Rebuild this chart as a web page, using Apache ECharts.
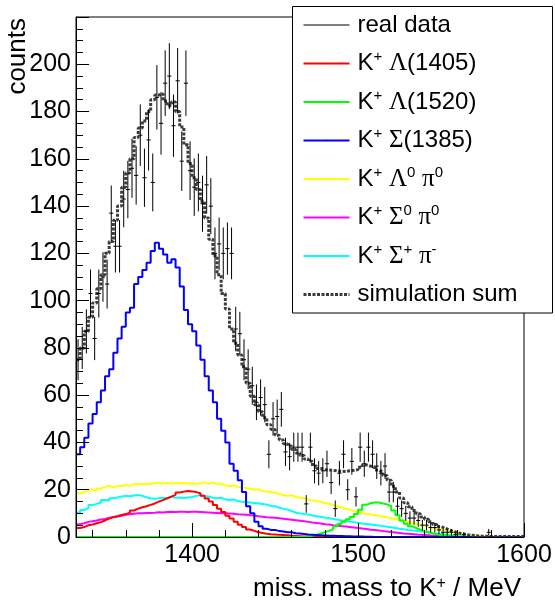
<!DOCTYPE html>
<html><head><meta charset="utf-8">
<script src="https://cdn.jsdelivr.net/npm/echarts@6/dist/echarts.min.js"></script>
<style>html,body{margin:0;padding:0;background:#fff}#c{width:555px;height:606px}</style>
</head><body><div id="c"></div>
<script>
// Histogram binning (MeV)
const binStart = 1330;
const binWidth = 2.5;

// Tick positions
const yMax = 220;
const xMajorTicks = [1400, 1500, 1600];
const xMinorTicks = [1340, 1360, 1380, 1420, 1440, 1460, 1480, 1520, 1540, 1560, 1580];

// Measured counts per bin
const realData = [75,80,87,103,84,103,110,107,137,123, 123,143,147,156,153,170,152,168,150,186,
  175,192,195,174,193,159,192,155,148,150, 141,149,140,120,124,120,122,120,88,86,
  75,71,64,57,59,56,35,50,51,54, 36,34,38,38,38,14,38,28,27,28,
  31,23,12,27,35,20,32,17,38,31, 38,35,30,27,30,19,19,13,12,10,
  8,8,7,5,5,4,4,3,2,2, 2,1,0,1,0,0,0,0,0,2,
  0,0,0,0,0,0,0,0];

// Simulated components per bin
const lambda1405 = [3.8,4.2,5,5.3,5.8,6.3,7,7.8,8.4,8.8, 9.3,9.7,10.3,11.2,12,12.6,13,13.6,14.2,15,
  15.6,16.4,17.1,17.8,18.8,19.2,19.5,19.3,19,18.5, 17.5,16.3,15,13.5,12,10.6,9,7.8,6.5,5.2,
  4.2,3.2,2.6,2,1.7,1.4,1.2,1.1,0.9,0.8, 0.7,0.5,0.4,0.3,0.2,0.2,0.1,0,0,0,
  0,0,0,0,0,0,0,0,0,0, 0,0,0,0,0,0,0,0,0,0,
  0,0,0,0,0,0,0,0,0,0, 0,0,0,0,0,0,0,0,0,0,
  0,0,0,0,0,0,0,0];
const lambda1520 = [0,0,0,0,0,0,0,0,0,0, 0,0,0,0,0,0,0,0,0,0,
  0,0,0,0,0,0,0,0,0,0, 0,0,0,0,0,0,0,0,0,0,
  0,0,0,0,0,0,0,0,0,0, 0,0,0,0,0,0,0.5,1,1.5,2,
  2.6,3.3,4.5,5.5,6.5,7.5,8.5,9.7,11.5,13.6, 14.3,14.6,14.6,14.2,13.8,13,11.2,9.2,7,5.6,
  4.6,3.8,3.1,2.5,2,1.6,1.2,0.9,0.7,0.5, 0.3,0.2,0.1,0,0,0,0,0,0,0,
  0,0,0,0,0,0,0,0];
const sigma1385 = [35,38,42,48,52,57,62,68,71,78, 84,89,95,97,107,110,113,116,121,124.5,
  122,119.5,116,117.5,114,106,96,90,87,81, 75,68,62,57,50,45,40,31,28,24,
  19,13,10,6.5,4.5,3.5,3,3,2.5,2.3, 2,2,1.6,1.5,1.3,1.1,1,0.8,0.7,0.6,
  0.5,0.5,0.4,0.4,0.3,0.3,0.2,0.2,0.2,0.1, 0.1,0,0,0,0,0,0,0,0,0,
  0,0,0,0,0,0,0,0,0,0, 0,0,0,0,0,0,0,0,0,0,
  0,0,0,0,0,0,0,0];
const lambda0pi0 = [18.5,19,19.6,20.2,19.5,20.5,21.2,21.7,21,21.5, 21.7,22,21.6,22.3,22.5,22.2,22.6,22.4,22.8,23,
  22.6,22.8,22.6,22.9,22.7,22.8,22.6,22.7,22.4,22.6, 23.2,22.5,23,22.4,22.6,21.8,21.6,21.8,21.2,21,
  20.6,20.4,20,20.2,19.5,19.2,19,18.7,18.2,17.8, 17.4,17.6,17,16.6,16.4,15.8,15.4,15.2,14.8,14.4,
  14.1,13.6,13,12.6,12,11.6,11,10.6,10.1,9.8, 9.5,9.2,9,8.7,8.4,7.9,7.6,7.2,6.8,6.4,
  6,5.6,5.1,4.7,4.2,3.8,3.4,3,2.7,2.3, 2,1.6,1.3,1,0.7,0.5,0.3,0.2,0.1,0,
  0,0,0,0,0,0,0,0];
const sigma0pi0 = [5.4,5.8,6.4,6.7,7,7.4,7.6,8.1,8.5,8.7, 9,9.4,9.6,9.8,10,10,10.2,10.2,10.3,10.5,
  10.4,10.6,10.7,10.6,10.7,10.7,10.6,10.7,10.7,10.6, 10.5,10.4,10.3,10.2,10.1,10,9.9,9.8,9.6,9.5,
  9.4,9.2,9.1,8.8,8.6,8.4,8.3,8.1,7.9,7.7, 7.5,7.3,7.1,6.9,6.7,6.4,6.1,5.9,5.7,5.4,
  5.3,5,4.8,4.6,4.4,4.2,4,3.8,3.6,3.4, 3.1,3,2.8,2.5,2.3,2.1,1.9,1.7,1.5,1.4,
  1.3,1.1,0.9,0.8,0.7,0.5,0.4,0.3,0.2,0.1, 0,0,0,0,0,0,0,0,0,0,
  0,0,0,0,0,0,0,0];
const sigmaPlusPiMinus = [10.4,11.4,12.2,13.5,14,14.6,15.7,15.4,16.4,16.7, 17.1,17.4,17.2,17.6,17.8,17.4,16.8,16.4,16.2,16.4,
  16.6,16.4,17,16.6,16.7,16.4,16.7,16.9,17.4,17.8, 17.3,17.1,16.6,16.4,16.6,15.9,15.7,15.9,15.2,14.9,
  14.8,14.6,14.4,14.2,14,13.7,13.1,13,12.4,11.9, 11.6,11,10.3,10,9.7,9.5,9.1,8.8,8.6,8.2,
  7.9,7.6,7.3,7,6.8,6.5,6.2,6,5.7,5.5, 5.3,5.1,4.9,4.6,4.3,4.1,3.8,3.5,3.3,3,
  2.8,2.6,2.4,2.1,1.9,1.6,1.4,1.3,1.1,0.8, 0.6,0.4,0.3,0.2,0.1,0,0,0,0,0,
  0,0,0,0,0,0,0,0];
const simulationSum = [75,80,87,93,99,105,111,120,125,134, 140,148,154,160,169,173,176,180,185,187,
  187.5,184.5,182.5,184,180,173.5,166,158,152,147, 142,135,126,119,111,103,96.5,88,82,77,
  72,65,59.5,56,53,50.5,47.5,45.5,43,41, 39.5,38.5,37,35.5,34.5,33,32,30,29,28.5,
  28.3,28.2,28,27.8,27.7,28,28.2,28.5,29.5,30.5, 30,29.5,28.3,27.5,26,24,21.5,19,16.5,14.5,
  12.8,11.2,9.8,8.5,7.5,6.4,5.3,4.4,3.7,3, 2.4,1.8,1.4,1.1,0.8,0.6,0.45,0.35,0.3,0.25,
  0.25,0.25,0.25,0.25,0.25,0.25,0.25,0.25];

const legendLabels = {
  'real data': 'real data',
  'K+ Λ(1405)': 'K{sup|+} {g|Λ}(1405)',
  'K+ Λ(1520)': 'K{sup|+} {g|Λ}(1520)',
  'K+ Σ(1385)': 'K{sup|+} {g|Σ}(1385)',
  'K+ Λ0 π0': 'K{sup|+} {g|Λ}{sup|0} {g|π}{sup|0}',
  'K+ Σ0 π0': 'K{sup|+} {g|Σ}{sup|0} {g|π}{sup|0}',
  'K+ Σ+ π-': 'K{sup|+} {g|Σ}{sup|+} {g|π}{sup|-}',
  'simulation sum': 'simulation sum'
};

function histData(vals) {
  const pts = vals.map((v, i) => [binStart + i * binWidth, v]);
  pts.push([binStart + vals.length * binWidth, vals[vals.length - 1]]);
  return pts;
}
function histSeries(name, vals, color, z) {
  return {
    type: 'line', name: name, data: histData(vals), step: 'end',
    symbol: 'none', silent: true, z: z,
    lineStyle: { color: color, width: 2 }, itemStyle: { color: color }
  };
}

const font = 'Liberation Sans';
const chart = echarts.init(document.getElementById('c'));
chart.setOption({
  animation: false,
  backgroundColor: '#fff',
  grid: { left: 76, right: 31, top: 17, bottom: 69, show: true, borderColor: '#000', borderWidth: 1, backgroundColor: 'transparent' },
  xAxis: [
    { type: 'value', min: binStart, max: 1600, position: 'bottom', z: 10,
      axisLine: { show: true, onZero: false, lineStyle: { color: '#000', width: 1 } },
      axisTick: { show: true, inside: true, length: 14, customValues: xMajorTicks, lineStyle: { color: '#000' } },
      axisLabel: { customValues: xMajorTicks, formatter: v => String(v), color: '#000', fontFamily: font, fontSize: 25, margin: 6 },
      splitLine: { show: false } },
    { type: 'value', min: binStart, max: 1600, position: 'bottom', z: 10,
      axisLine: { show: false, onZero: false },
      axisTick: { show: true, inside: true, length: 7, customValues: xMinorTicks, lineStyle: { color: '#000' } },
      axisLabel: { show: false }, splitLine: { show: false } }
  ],
  yAxis: {
    type: 'value', min: 0, max: yMax, interval: 20, z: 10,
    axisLine: { show: true, lineStyle: { color: '#000', width: 1 } },
    axisTick: { show: true, inside: true, length: 13, lineStyle: { color: '#000' } },
    minorTick: { show: true, splitNumber: 4, length: 7, lineStyle: { color: '#000' } },
    axisLabel: { showMaxLabel: false, formatter: v => String(v), color: '#000', fontFamily: font, fontSize: 25, margin: 5 },
    splitLine: { show: false }
  },
  legend: {
    orient: 'vertical', left: 302, top: 11, padding: 0, itemGap: 10.5,
    itemWidth: 46, itemHeight: 2, selectedMode: false, z: 20,
    data: [
      { name: 'real data', lineStyle: { width: 1 }, itemStyle: { opacity: 0 } },
      { name: 'K+ Λ(1405)', lineStyle: { width: 2 } },
      { name: 'K+ Λ(1520)', lineStyle: { width: 2 } },
      { name: 'K+ Σ(1385)', lineStyle: { width: 2 } },
      { name: 'K+ Λ0 π0', lineStyle: { width: 2 } },
      { name: 'K+ Σ0 π0', lineStyle: { width: 2 } },
      { name: 'K+ Σ+ π-', lineStyle: { width: 2 } },
      { name: 'simulation sum', lineStyle: { width: 3 } }
    ],
    formatter: name => legendLabels[name],
    textStyle: {
      fontFamily: font, fontSize: 24, color: '#000', lineHeight: 28, padding: [0, 0, 0, 3],
      rich: {
        sup: { fontFamily: font, fontSize: 15, lineHeight: 16, verticalAlign: 'top', color: '#000' },
        g: { fontFamily: 'Liberation Serif', fontSize: 25, lineHeight: 28, color: '#000' }
      }
    }
  },
  graphic: [
    { type: 'rect', z: 15, shape: { x: 292.5, y: 6.5, width: 260, height: 306.5 },
      style: { fill: '#fff', stroke: '#000', lineWidth: 1 } },
    { type: 'text', x: 5, y: 18, rotation: Math.PI / 2, z: 5,
      style: { text: 'counts', font: '26px "Liberation Sans"', fill: '#000', align: 'right', verticalAlign: 'top' } },
    { type: 'text', x: 521, y: 576, z: 5,
      style: { text: 'miss. mass to K{sup|+} / MeV', font: '26px "Liberation Sans"', fill: '#000',
        align: 'right', verticalAlign: 'top',
        rich: { sup: { font: '16px "Liberation Sans"', fill: '#000', verticalAlign: 'top', lineHeight: 14 } } } }
  ],
  series: [
    { type: 'line', name: 'real data', data: [], symbol: 'none', lineStyle: { color: '#000', width: 1 }, itemStyle: { color: '#000' } },
    histSeries('K+ Λ0 π0', lambda0pi0, '#ffff00', 2),
    histSeries('K+ Σ+ π-', sigmaPlusPiMinus, '#00ffff', 2),
    histSeries('K+ Σ0 π0', sigma0pi0, '#ff00ff', 2),
    histSeries('K+ Λ(1405)', lambda1405, '#ff0000', 2),
    histSeries('K+ Λ(1520)', lambda1520, '#00ff00', 2),
    histSeries('K+ Σ(1385)', sigma1385, '#0000ff', 2),
    { type: 'line', name: 'simulation sum', data: histData(simulationSum), step: 'end', symbol: 'none', silent: true, z: 3,
      lineStyle: { color: '#3c3c3c', width: 3, type: [3, 1.5] }, itemStyle: { color: '#3c3c3c' } },
    { type: 'custom', name: 'real data points', z: 4, silent: true,
      data: realData.map((v, i) => [binStart + (i + 0.5) * binWidth, v]),
      encode: { x: 0, y: 1 },
      renderItem: function (params, api) {
        const x = api.value(0), v = api.value(1);
        if (!v) return null;
        const e = Math.sqrt(v);
        const t = api.coord([x, v + e]), b = api.coord([x, Math.max(v - e, 0)]);
        const l = api.coord([x - binWidth / 2, v]), r = api.coord([x + binWidth / 2, v]);
        return { type: 'group', children: [
          { type: 'line', shape: { x1: t[0], y1: t[1], x2: b[0], y2: b[1] }, style: { stroke: '#000', lineWidth: 1 } },
          { type: 'line', shape: { x1: l[0], y1: l[1], x2: r[0], y2: r[1] }, style: { stroke: '#000', lineWidth: 1 } }
        ] };
      } }
  ]
});
</script>
</body></html>
